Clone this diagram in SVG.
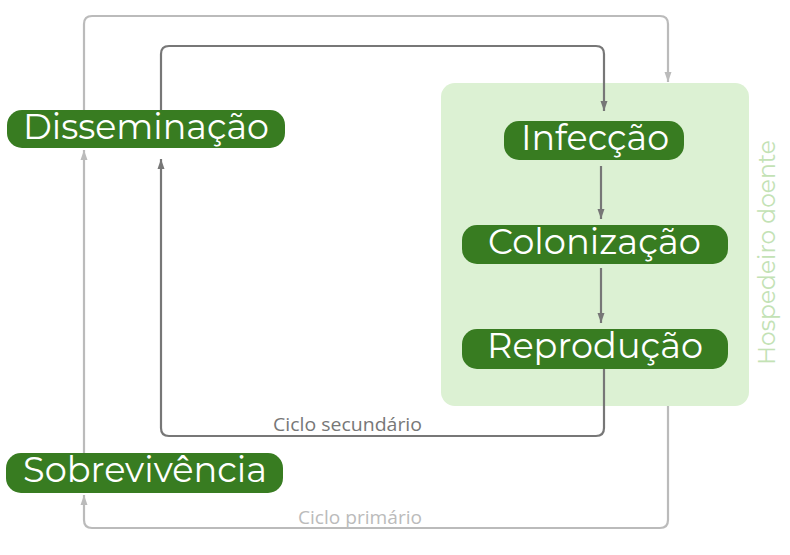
<svg xmlns="http://www.w3.org/2000/svg" width="790" height="555" viewBox="0 0 790 555">
<defs>
<style>
.node{fill:#387c21}
.lbl{font-family:"Montserrat","Open Sans","Liberation Sans",sans-serif;fill:#ffffff;font-size:35px}
.dark{fill:none;stroke:#777777;stroke-width:2.2}
.light{fill:none;stroke:#bbbbbb;stroke-width:2.2}
.cap{font-family:"Open Sans","Liberation Sans",sans-serif;font-size:18px}
</style>
<marker id="ad" markerUnits="userSpaceOnUse" markerWidth="10" markerHeight="10" viewBox="0 0 10 10" refX="10" refY="5" orient="auto"><path d="M0,1.5 L10,5 L0,8.5 Z" fill="#777777"/></marker>
<marker id="al" markerUnits="userSpaceOnUse" markerWidth="10" markerHeight="10" viewBox="0 0 10 10" refX="10" refY="5" orient="auto"><path d="M0,1.5 L10,5 L0,8.5 Z" fill="#bbbbbb"/></marker>
</defs>
<rect width="790" height="555" fill="#ffffff"/>
<g id="host">
<rect x="441" y="83" width="308" height="323" rx="14" fill="#dcf1d3"/>
<text transform="translate(775,365) rotate(-90)" font-family="Montserrat,'Open Sans','Liberation Sans',sans-serif" font-size="24" fill="#c3e2b5" textLength="225" lengthAdjust="spacingAndGlyphs">Hospedeiro doente</text>
</g>
<g id="connectors">
<path class="light" d="M84,110 V24 Q84,16 92,16 H660 Q668,16 668,24 V82" marker-end="url(#al)"/>
<path class="light" d="M668,406 V520 Q668,528 660,528 H92 Q84,528 84,520 V495" marker-end="url(#al)"/>
<path class="light" d="M84,453 V150" marker-end="url(#al)"/>
<path class="dark" d="M161,110 V54 Q161,46 169,46 H596 Q604,46 604,54 V111" marker-end="url(#ad)"/>
<path class="dark" d="M604,369 V428 Q604,436 596,436 H169 Q161,436 161,428 V159" marker-end="url(#ad)"/>
<path class="dark" d="M601,166 V219" marker-end="url(#ad)"/>
<path class="dark" d="M601,268 V323" marker-end="url(#ad)"/>
<text class="cap" x="273" y="431" fill="#777777" textLength="149" lengthAdjust="spacingAndGlyphs">Ciclo secundário</text>
<text class="cap" x="298" y="524" fill="#bbbbbb" textLength="124" lengthAdjust="spacingAndGlyphs">Ciclo primário</text>
</g>
<g id="disseminacao">
<rect class="node" x="7" y="110" width="278" height="38" rx="15"/>
<text class="lbl" x="23" y="139" textLength="246" lengthAdjust="spacingAndGlyphs">Disseminação</text>
</g>
<g id="infeccao">
<rect class="node" x="504" y="121" width="180" height="39" rx="15"/>
<text class="lbl" x="521" y="150" textLength="148" lengthAdjust="spacingAndGlyphs">Infecção</text>
</g>
<g id="colonizacao">
<rect class="node" x="462" y="225" width="266" height="39" rx="15"/>
<text class="lbl" x="488" y="254" textLength="213" lengthAdjust="spacingAndGlyphs">Colonização</text>
</g>
<g id="reproducao">
<rect class="node" x="462" y="329" width="266" height="40" rx="15"/>
<text class="lbl" x="487" y="358" textLength="216" lengthAdjust="spacingAndGlyphs">Reprodução</text>
</g>
<g id="sobrevivencia">
<rect class="node" x="6" y="453" width="277" height="40" rx="15"/>
<text class="lbl" x="23" y="482" textLength="244" lengthAdjust="spacingAndGlyphs">Sobrevivência</text>
</g>
</svg>
